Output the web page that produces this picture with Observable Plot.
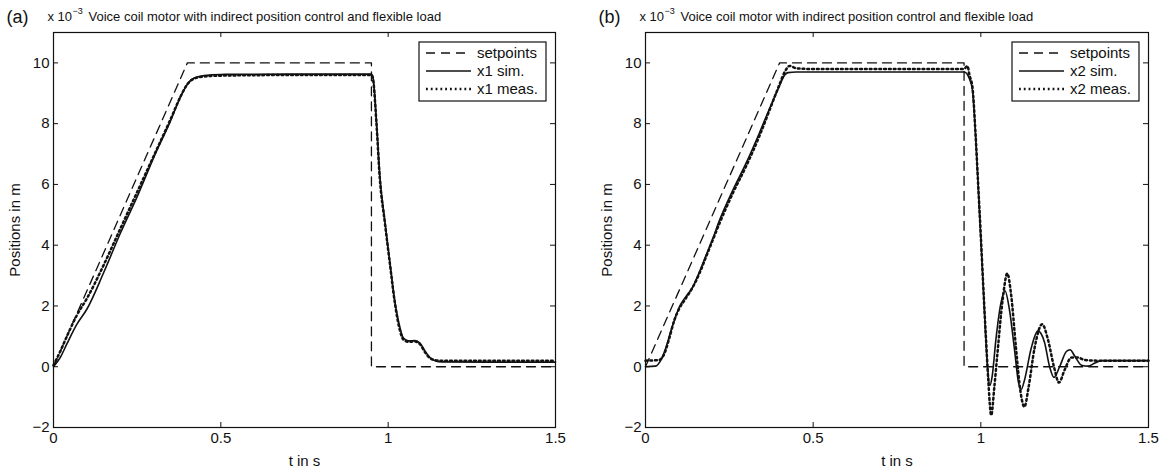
<!DOCTYPE html>
<html><head><meta charset="utf-8">
<script src="https://cdn.jsdelivr.net/npm/d3@7"></script>
<script src="https://cdn.jsdelivr.net/npm/@observablehq/plot@0.6"></script>
<style>
body{margin:0;background:#fff;}
#wrap{display:flex;width:1165px;height:468px;overflow:hidden;}
#wrap svg{overflow:visible;}
</style></head><body><div id="wrap"></div>
<script>
// ---- texts / ticks ----
const xTicks = [0, 0.5, 1, 1.5];
const yTicks = [-2, 0, 2, 4, 6, 8, 10];
const titleText = "Voice coil motor with indirect position control and flexible load";
const scaleBase = "x 10";
const scaleExp = "−3";
const panelLetters = ["(a)", "(b)"];
const xLabel = "t in s";
const yLabel = "Positions in m";
const legendA = ["setpoints", "x1 sim.", "x1 meas."];
const legendB = ["setpoints", "x2 sim.", "x2 meas."];

// ---- setpoints (both panels), values in 1e-3 m ----
const setT = [0, 0.4, 0.95, 0.95, 1.5];
const setV = [0, 10, 10, 0, 0];

// ---- panel (a) ----
const x1SimT = [0, 0.02, 0.04, 0.07, 0.1, 0.15, 0.2, 0.25, 0.3, 0.35, 0.38, 0.4, 0.42, 0.45, 0.5, 0.7, 0.9, 0.95, 0.955, 0.965, 0.975, 0.99, 1.005, 1.02, 1.035, 1.045, 1.06, 1.08, 1.095, 1.11, 1.125, 1.14, 1.16, 1.3, 1.5];
const x1SimV = [0, 0.3, 0.75, 1.4, 1.9, 3.1, 4.4, 5.6, 6.9, 8.1, 8.9, 9.3, 9.5, 9.58, 9.62, 9.63, 9.63, 9.63, 9.5, 8.1, 6.3, 4.8, 3.45, 2.15, 1.3, 0.95, 0.85, 0.86, 0.78, 0.52, 0.3, 0.2, 0.16, 0.15, 0.15];
const x1MeasT = [0, 0.02, 0.04, 0.07, 0.1, 0.15, 0.2, 0.25, 0.3, 0.35, 0.38, 0.4, 0.42, 0.45, 0.5, 0.7, 0.9, 0.95, 0.955, 0.965, 0.975, 0.99, 1.005, 1.02, 1.035, 1.045, 1.06, 1.08, 1.095, 1.11, 1.125, 1.14, 1.16, 1.3, 1.5];
const x1MeasV = [0.05, 0.5, 1.0, 1.7, 2.25, 3.35, 4.55, 5.75, 6.95, 8.15, 8.9, 9.3, 9.48, 9.55, 9.58, 9.6, 9.6, 9.6, 9.45, 8.0, 6.2, 4.75, 3.4, 2.1, 1.2, 0.9, 0.82, 0.83, 0.74, 0.48, 0.28, 0.22, 0.2, 0.2, 0.2];

// ---- panel (b) ----
const x2SimT = [0, 0.03, 0.045, 0.06, 0.075, 0.09, 0.1, 0.12, 0.14, 0.16, 0.18, 0.2, 0.22, 0.26, 0.3, 0.34, 0.37, 0.4, 0.415, 0.425, 0.45, 0.7, 0.95, 0.958, 0.965, 0.975, 0.984, 0.992, 1.0, 1.007, 1.014, 1.02, 1.027, 1.034, 1.045, 1.06, 1.072, 1.085, 1.1, 1.112, 1.12, 1.13, 1.15, 1.17, 1.19, 1.205, 1.218, 1.235, 1.255, 1.266, 1.28, 1.3, 1.32, 1.34, 1.36, 1.5];
const x2SimV = [0, 0.02, 0.2, 0.6, 1.15, 1.65, 1.95, 2.3, 2.6, 3.1, 3.65, 4.2, 4.8, 5.8, 6.7, 7.7, 8.5, 9.25, 9.6, 9.68, 9.7, 9.7, 9.7, 9.65, 9.5, 9.1, 7.7, 6.0, 4.2, 2.7, 1.1, 0.0, -0.62, -0.3, 0.9, 2.1, 2.5, 1.9, 0.6, -0.5, -0.75, -0.45, 0.6, 1.18, 0.8, 0.0, -0.35, 0.0, 0.5, 0.56, 0.35, 0.05, 0.02, 0.12, 0.2, 0.2];
const x2MeasT = [0, 0.04, 0.055, 0.07, 0.085, 0.1, 0.12, 0.14, 0.16, 0.18, 0.2, 0.22, 0.26, 0.3, 0.34, 0.37, 0.4, 0.415, 0.43, 0.45, 0.5, 0.7, 0.95, 0.96, 0.966, 0.975, 0.984, 0.992, 1.0, 1.007, 1.015, 1.022, 1.031, 1.04, 1.05, 1.065, 1.079, 1.09, 1.105, 1.118, 1.13, 1.142, 1.16, 1.183, 1.2, 1.218, 1.233, 1.25, 1.27, 1.29, 1.31, 1.35, 1.5];
const x2MeasV = [0.2, 0.22, 0.4, 0.9, 1.5, 1.9, 2.25, 2.6, 3.05, 3.6, 4.15, 4.7, 5.7, 6.6, 7.6, 8.45, 9.3, 9.7, 9.9, 9.82, 9.8, 9.8, 9.8, 9.9, 9.6, 9.2, 7.7, 6.0, 4.3, 2.7, 1.0, -0.4, -1.6, -0.7, 0.5, 2.2, 3.07, 2.4, 0.6, -0.8, -1.32, -0.7, 0.6, 1.4, 0.9, 0.0, -0.52, -0.1, 0.3, 0.3, 0.22, 0.2, 0.2];

const rows = (T, V) => T.map((t, i) => ({t, v: V[i]}));

const FONT = "'Liberation Sans', Arial, Helvetica, sans-serif";
const INK = "#111";
const DASH = "9,6";
const DOT = "1.8,3";

function panel({width, ml, mr, letter, sim, meas, legend}) {
  const H = 468, mt = 32, mb = 41;
  const fh = H - mt - mb, fw = width - ml - mr;
  const chart = Plot.plot({
    width, height: H,
    marginLeft: ml, marginRight: mr, marginTop: mt, marginBottom: mb,
    style: {fontFamily: FONT, fontSize: "15px", color: INK, background: "white", overflow: "visible"},
    x: {domain: [0, 1.5]},
    y: {domain: [-2, 11]},
    marks: [
      Plot.axisX(xTicks, {anchor: "bottom", tickSize: 0, tickPadding: 5, fontSize: 15,
        tickFormat: d => String(d), label: xLabel, labelAnchor: "center", labelArrow: "none", labelOffset: 38}),
      Plot.axisY(yTicks, {anchor: "left", tickSize: 0, tickPadding: 4, fontSize: 15,
        label: yLabel, labelAnchor: "center", labelArrow: "none", labelOffset: 44}),
      Plot.ruleX(xTicks, {x: d => d, insetTop: fh - 5, stroke: INK}),
      Plot.ruleX(xTicks, {x: d => d, insetBottom: fh - 5, stroke: INK}),
      Plot.ruleY(yTicks, {y: d => d, insetRight: fw - 5, stroke: INK}),
      Plot.ruleY(yTicks, {y: d => d, insetLeft: fw - 5, stroke: INK}),
      Plot.line(rows(setT, setV), {x: "t", y: "v", stroke: INK, strokeWidth: 1.3, strokeDasharray: DASH}),
      Plot.line(sim, {x: "t", y: "v", stroke: INK, strokeWidth: 1.6, curve: "monotone-x"}),
      Plot.line(meas, {x: "t", y: "v", stroke: INK, strokeWidth: 2.5, strokeDasharray: DOT, curve: "monotone-x"}),
      Plot.frame({stroke: INK, strokeWidth: 1.2}),
      Plot.text([letter], {text: d => d, frameAnchor: "top-left", dx: -47, dy: -10, lineAnchor: "bottom", textAnchor: "start", fontSize: 18, fill: INK}),
      Plot.text([scaleBase], {text: d => d, frameAnchor: "top-left", dx: -6, dy: -12, lineAnchor: "bottom", textAnchor: "start", fontSize: 13, fill: INK}),
      Plot.text([scaleExp], {text: d => d, frameAnchor: "top-left", dx: 19, dy: -19, lineAnchor: "bottom", textAnchor: "start", fontSize: 9, fill: INK}),
      Plot.text([titleText], {text: d => d, frameAnchor: "top-left", dx: 35, dy: -12, lineAnchor: "bottom", textAnchor: "start", fontSize: 13, fill: INK})
    ]
  });
  // legend box (layout only)
  const svg = d3.select(chart.tagName === "svg" ? chart : chart.querySelector("svg"));
  const bw = 127, bh = 59;
  const bx = width - mr - 9 - bw, by = 42;
  const g = svg.append("g").attr("font-family", FONT).attr("font-size", 15).attr("fill", INK).attr("text-anchor", "start");
  g.append("rect").attr("x", bx).attr("y", by).attr("width", bw).attr("height", bh)
    .attr("fill", "white").attr("stroke", INK).attr("stroke-width", 1.2);
  const styles = [
    {w: 1.3, dash: DASH}, {w: 1.6, dash: null}, {w: 2.5, dash: DOT}
  ];
  legend.forEach((lab, i) => {
    const y = by + 11 + i * 18;
    const ln = g.append("line").attr("x1", bx + 7).attr("x2", bx + 52).attr("y1", y).attr("y2", y)
      .attr("stroke", INK).attr("stroke-width", styles[i].w);
    if (styles[i].dash) ln.attr("stroke-dasharray", styles[i].dash);
    g.append("text").attr("x", bx + 58).attr("y", y).attr("dy", "0.35em").attr("text-anchor", "start").text(lab);
  });
  return chart;
}

const wrap = document.getElementById("wrap");
wrap.append(panel({width: 582, ml: 53, mr: 27, letter: panelLetters[0],
  sim: rows(x1SimT, x1SimV), meas: rows(x1MeasT, x1MeasV), legend: legendA}));
wrap.append(panel({width: 583, ml: 63, mr: 17, letter: panelLetters[1],
  sim: rows(x2SimT, x2SimV), meas: rows(x2MeasT, x2MeasV), legend: legendB}));
</script></body></html>
